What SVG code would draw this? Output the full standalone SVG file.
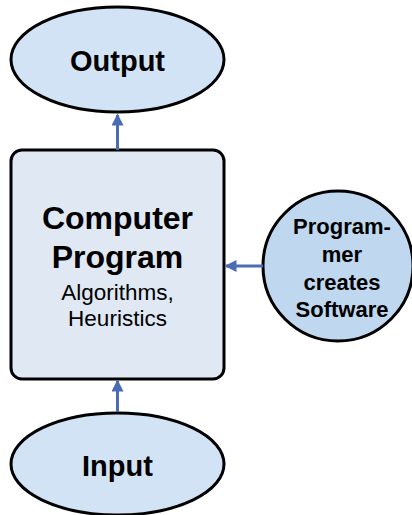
<svg xmlns="http://www.w3.org/2000/svg" width="412" height="515" viewBox="0 0 412 515">
<defs>
<marker id="ah" markerWidth="4" markerHeight="4" refX="3.5" refY="2" orient="auto" markerUnits="strokeWidth">
<path d="M0,0 L4,2 L0,4 Z" fill="#4a6cb3"/>
</marker>
<style>
.sh{stroke:#000;stroke-width:3}
.t{font-family:"Liberation Sans",Arial,sans-serif;text-anchor:middle;fill:#000}
.b{font-weight:bold}
.c{stroke:#4a6cb3;stroke-width:3;fill:none;marker-end:url(#ah)}
</style>
</defs>
<rect width="412" height="515" fill="#fff"/>
<g id="output">
<ellipse class="sh" cx="117.5" cy="59.5" rx="106.5" ry="52.5" fill="#d2e3f5"/>
<text class="t b" x="117.5" y="71" font-size="29">Output</text>
</g>
<g id="program">
<rect class="sh" x="11" y="150" width="213" height="229" rx="11" fill="#dfe8f3"/>
<text class="t b" x="117.5" y="229" font-size="32">Computer</text>
<text class="t b" x="117.5" y="268" font-size="32">Program</text>
<text class="t" x="117.5" y="300" font-size="22.5">Algorithms,</text>
<text class="t" x="117.5" y="326" font-size="22.5">Heuristics</text>
</g>
<g id="programmer">
<circle class="sh" cx="338" cy="266" r="75" fill="#bfd8ef"/>
<text class="t b" x="342" y="234" font-size="22">Program-</text>
<text class="t b" x="342" y="262" font-size="22">mer</text>
<text class="t b" x="342" y="290" font-size="22">creates</text>
<text class="t b" x="342" y="317" font-size="22">Software</text>
</g>
<g id="input">
<ellipse class="sh" cx="117.5" cy="464" rx="106.5" ry="51" fill="#d2e3f5"/>
<text class="t b" x="117.5" y="476" font-size="29">Input</text>
</g>
<g id="connectors">
<line class="c" x1="117.5" y1="150" x2="117.5" y2="115"/>
<line class="c" x1="263" y1="266" x2="226" y2="266"/>
<line class="c" x1="117.5" y1="412" x2="117.5" y2="381"/>
</g>
</svg>
